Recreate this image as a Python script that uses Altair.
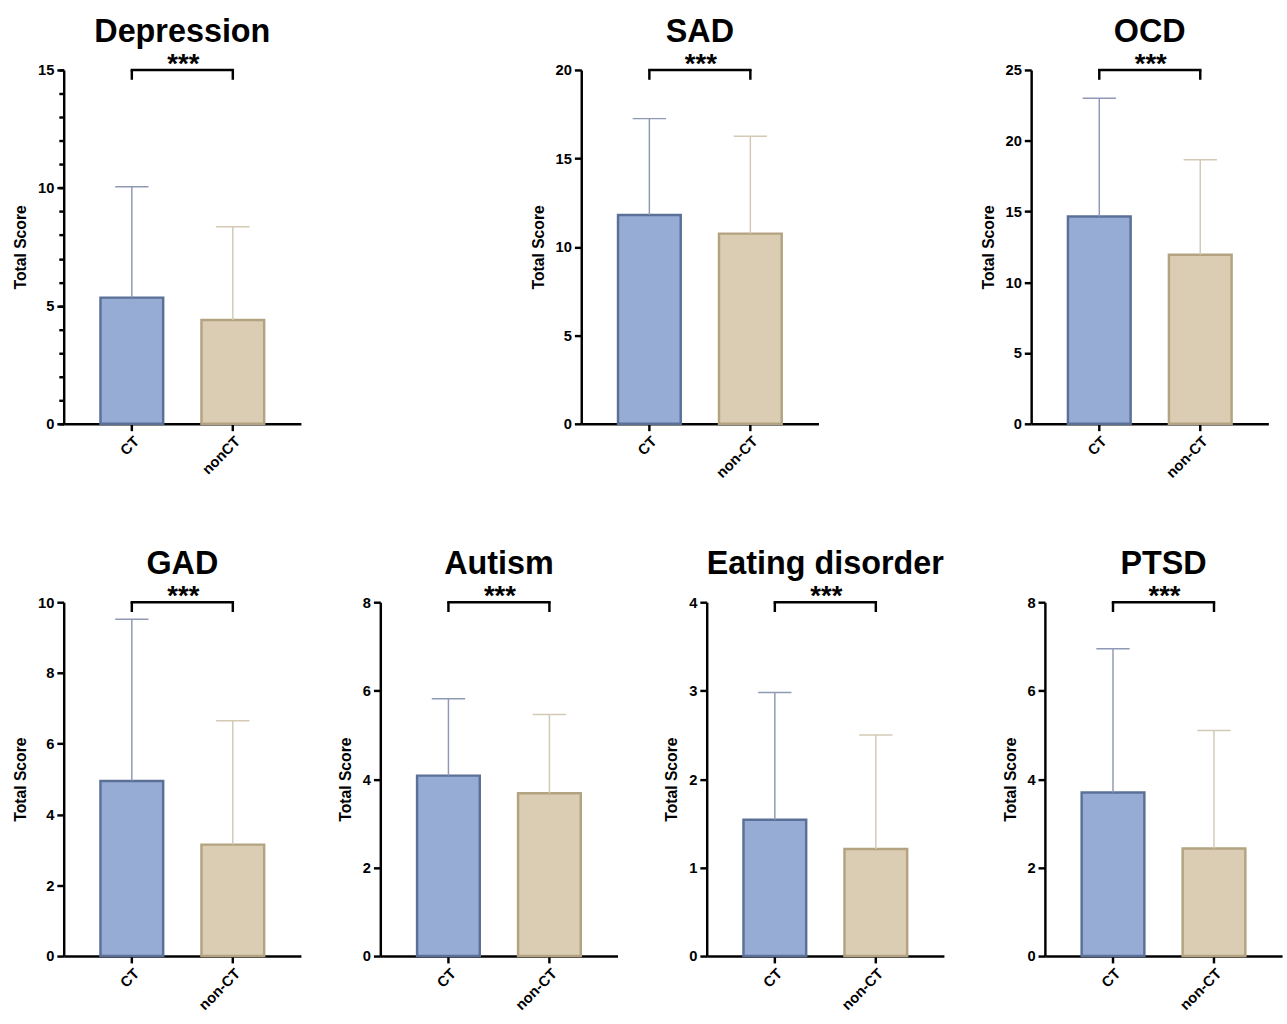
import altair as alt
import pandas as pd

# Panel definitions: title, y-axis max, tick step, x labels
titles = ["Depression", "SAD", "OCD", "GAD", "Autism", "Eating disorder", "PTSD"]
y_max = [15, 20, 25, 10, 8, 4, 8]
y_step = [5, 5, 5, 2, 2, 1, 2]
non_labels = ["nonCT", "non-CT", "non-CT", "non-CT", "non-CT", "non-CT", "non-CT"]

# Group means and standard deviations
ct_mean = [5.35, 11.80, 14.65, 4.95, 4.08, 1.54, 3.70]
ct_sd = [4.70, 5.45, 8.35, 4.57, 1.74, 1.44, 3.25]
non_mean = [4.40, 10.75, 11.95, 3.15, 3.68, 1.21, 2.43]
non_sd = [3.95, 5.50, 6.70, 3.50, 1.78, 1.29, 2.67]

FONT = "Liberation Sans"
FILL = ["#97acd4", "#dacdb3"]
EDGE = ["#5b7097", "#b3a381"]
WHISK = ["#8f98b5", "#d3c9b5"]
W, H = 242, 361


def panel(i, minor=False):
    groups = ["CT", non_labels[i]]
    df = pd.DataFrame({
        "group": groups,
        "mean": [ct_mean[i], non_mean[i]],
        "sd": [ct_sd[i], non_sd[i]],
    })
    top = y_max[i]
    xs = alt.Scale(domain=groups, paddingInner=0.379, paddingOuter=0.364)
    yaxis = alt.Axis(title="Total Score", format="d", labelOverlap=False,
                     values=list(range(0, top + 1, y_step[i])))
    ys = alt.Scale(domain=[0, top], nice=False, zero=True)
    x = alt.X("group:N", scale=xs, sort=groups,
              axis=alt.Axis(title=None, labelAngle=-45, labelOverlap=False))

    base = alt.Chart(df).transform_calculate(upper="datum.mean + datum.sd")

    bars = base.mark_bar(strokeWidth=2.5).encode(
        x=x,
        y=alt.Y("mean:Q", scale=ys, axis=yaxis),
        fill=alt.Fill("group:N", scale=alt.Scale(domain=groups, range=FILL), legend=None),
        stroke=alt.Stroke("group:N", scale=alt.Scale(domain=groups, range=EDGE), legend=None),
    )
    whisk_color = alt.Color("group:N", scale=alt.Scale(domain=groups, range=WHISK), legend=None)
    whisker = base.mark_rule(strokeWidth=1.5).encode(
        x=x, y=alt.Y("mean:Q", scale=ys), y2="upper:Q", color=whisk_color,
    )
    cap = base.mark_tick(size=34, thickness=1.5, opacity=1).encode(
        x=x, y=alt.Y("upper:Q", scale=ys), color=whisk_color,
    )

    br = pd.DataFrame({"g1": ["CT"], "g2": [non_labels[i]], "y": [top]})
    bracket = alt.Chart(br).mark_rule(color="black", strokeWidth=2.5, strokeCap="square").encode(
        x=alt.X("g1:N", scale=xs), x2="g2:N", y=alt.Y("y:Q", scale=ys),
    )
    legs_df = pd.DataFrame({"group": groups, "y": [top, top]})
    legs = alt.Chart(legs_df).mark_rule(color="black", strokeWidth=2.5, y2Offset=10).encode(
        x=x, y=alt.Y("y:Q", scale=ys), y2="y:Q",
    )
    stars = alt.Chart(br).mark_text(
        text="***", font=FONT, fontSize=28, fontWeight="bold",
        baseline="alphabetic", align="center", dy=3, color="black",
    ).encode(x=alt.value(W / 2 + 1), y=alt.Y("y:Q", scale=ys))

    layers = [alt.layer(bars, whisker, cap, bracket, legs, stars)]
    if minor:
        # unlabeled minor ticks every 1 unit on the left axis
        minor_ticks = base.mark_point(opacity=0).encode(
            x=x,
            y=alt.Y("mean:Q", scale=ys, axis=alt.Axis(
                orient="left", values=list(range(0, top + 1)), labels=False,
                tickSize=5, domain=False, title=None)),
        )
        layers.append(minor_ticks)

    out = alt.layer(*layers).properties(
        width=W, height=H,
        title=alt.TitleParams(titles[i], fontSize=33, font=FONT, fontWeight="bold",
                              anchor="middle", offset=3, color="black"),
    )
    if minor:
        out = out.resolve_axis(y="independent")
    return out.resolve_scale(fill="independent", stroke="independent", color="independent")


p = [panel(i, minor=(i == 0)) for i in range(7)]

top_row = alt.hconcat(alt.hconcat(p[0], p[1], spacing=234), p[2], spacing=165)
bottom_row = alt.hconcat(
    alt.hconcat(alt.hconcat(p[3], p[4], spacing=37), p[5], spacing=47), p[6], spacing=58)

chart = alt.vconcat(top_row, bottom_row, spacing=69).resolve_scale(
    fill="independent", stroke="independent", color="independent"
).configure_view(
    stroke=None
).configure_axis(
    domainColor="black", domainWidth=2.5, tickColor="black", tickWidth=2.5,
    tickSize=7, labelFont=FONT, labelFontSize=15, labelFontWeight="bold",
    labelColor="black", titleFont=FONT, titleFontSize=16, titleFontWeight="bold",
    titleColor="black", grid=False, labelPadding=3, titlePadding=9,
).properties(padding={"left": 13, "top": 6, "right": 5, "bottom": 5})

chart.save("out.html", embed_options={"renderer": "svg", "actions": False})
